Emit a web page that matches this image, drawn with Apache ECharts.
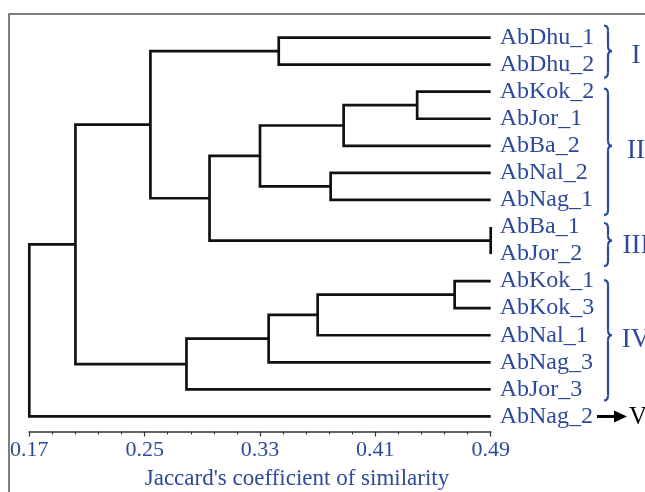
<!DOCTYPE html>
<html><head><meta charset="utf-8">
<script src="https://cdn.jsdelivr.net/npm/echarts@6/dist/echarts.min.js"></script>
<style>html,body{margin:0;padding:0;background:#fff}#c{width:645px;height:492px}</style>
</head><body><div id="c"></div>
<script>
// ---- data ----
const leafLabels = ['AbDhu_1','AbDhu_2','AbKok_2','AbJor_1','AbBa_2','AbNal_2','AbNag_1','AbBa_1','AbJor_2','AbKok_1','AbKok_3','AbNal_1','AbNag_3','AbJor_3','AbNag_2'];
const leafSimilarity = 0.49;
// merge k creates node (15 + k) from mergeLeft[k] and mergeRight[k]
const mergeLeft  = [0, 2, 16, 5, 17, 7, 19, 15, 9, 23, 24, 25, 22, 27];
const mergeRight = [1, 3, 4, 6, 18, 8, 20, 21, 10, 11, 12, 13, 26, 14];
const mergeSimilarity = [0.343, 0.439, 0.388, 0.379, 0.330, 0.490, 0.295, 0.254, 0.465, 0.370, 0.336, 0.279, 0.202, 0.170];
const tickLabels = ['0.17','0.25','0.33','0.41','0.49'];
const axisOrigin = 0.17, axisEnd = 0.49, tickStep = 0.08;
const groupNames = ['I','II','III','IV'];
const groupStart = [0, 2, 7, 9];
const groupEnd   = [1, 6, 8, 13];
const outgroupName = 'V';
const outgroupLeaf = 14;
const axisTitle = "Jaccard's coefficient of similarity";

// ---- style ----
const BLUE = '#2d4a9a';
const SERIF = '"Liberation Serif", "DejaVu Serif", serif';

// ---- build tree geometry in data units ----
const nLeaf = leafLabels.length;
const nodeX = [], nodeY = [];
for (let i = 0; i < nLeaf; i++) { nodeX.push(leafSimilarity); nodeY.push(i); }
const linkData = [];
for (let k = 0; k < mergeLeft.length; k++) {
  const a = mergeLeft[k], b = mergeRight[k];
  const y = (nodeY[a] + nodeY[b]) / 2;
  nodeX.push(mergeSimilarity[k]); nodeY.push(y);
  linkData.push([mergeSimilarity[k] - axisOrigin, nodeX[a] - axisOrigin, nodeY[a], nodeX[b] - axisOrigin, nodeY[b]]);
}

const chart = echarts.init(document.getElementById('c'), null, {renderer: 'canvas'});
chart.setOption({
  animation: false,
  backgroundColor: '#fff',
  grid: {left: 29.3, right: 154.3, top: 24, bottom: 62},
  xAxis: {
    type: 'value', position: 'bottom', min: 0, max: axisEnd - axisOrigin, interval: tickStep,
    offset: 1.5,
    axisLine: {show: true, onZero: false, lineStyle: {color: '#333', width: 1.5}},
    axisTick: {show: true, length: 5, lineStyle: {color: '#333', width: 1.2}},
    minorTick: {show: true, splitNumber: 5, length: 3, lineStyle: {color: '#333', width: 1}},
    splitLine: {show: false},
    axisLabel: {
      color: BLUE, fontFamily: SERIF, fontSize: 22, margin: 8,
      formatter: v => tickLabels[Math.round(v / tickStep)] || ''
    }
  },
  yAxis: [
    {type: 'value', min: -0.5, max: nLeaf - 0.5, inverse: true, show: false},
    {type: 'category', data: leafLabels, inverse: true, position: 'right',
     axisLine: {show: false}, axisTick: {show: false}, splitLine: {show: false},
     axisLabel: {color: BLUE, fontFamily: SERIF, fontSize: 24, margin: 9, interval: 0}}
  ],
  series: [{
    type: 'custom',
    xAxisIndex: 0, yAxisIndex: 0,
    data: linkData,
    encode: {x: [0, 1, 3], y: [2, 4]},
    renderItem: function (params, api) {
      const xn = api.value(0), xa = api.value(1), ya = api.value(2), xb = api.value(3), yb = api.value(4);
      const pts = [api.coord([xa, ya]), api.coord([xn, ya]), api.coord([xn, yb]), api.coord([xb, yb])];
      return {type: 'polyline', shape: {points: pts},
              style: {stroke: '#111', lineWidth: 2.7, fill: null, lineJoin: 'miter'}};
    }
  }]
});

// ---- annotations: braces, group numerals, arrow, title ----
const py = v => chart.convertToPixel({yAxisIndex: 0}, v);
const braceTopPad = [12, 3, 4, 1];
const braceBottomPad = [13, 15, 12, 11];
const braceX = 604, braceW = 8, braceR = 5;
const braceStyle = {fill: null, stroke: BLUE, lineWidth: 2.2};
function braceParts(yt, ym, yb) {
  const x0 = braceX, xm = braceX + braceW * 0.5, xt = braceX + braceW;
  return [
    {type: 'bezierCurve', shape: {x1: x0, y1: yt, cpx1: xm, cpy1: yt, x2: xm, y2: yt + braceR}, style: braceStyle},
    {type: 'line', shape: {x1: xm, y1: yt + braceR, x2: xm, y2: ym - braceR}, style: braceStyle},
    {type: 'bezierCurve', shape: {x1: xm, y1: ym - braceR, cpx1: xm, cpy1: ym, x2: xt, y2: ym}, style: braceStyle},
    {type: 'bezierCurve', shape: {x1: xt, y1: ym, cpx1: xm, cpy1: ym, x2: xm, y2: ym + braceR}, style: braceStyle},
    {type: 'line', shape: {x1: xm, y1: ym + braceR, x2: xm, y2: yb - braceR}, style: braceStyle},
    {type: 'bezierCurve', shape: {x1: xm, y1: yb - braceR, cpx1: xm, cpy1: yb, x2: x0, y2: yb}, style: braceStyle}
  ];
}
const graphics = [{
  type: 'rect', z: -1, silent: true,
  shape: {x: 9, y: 14, width: 700, height: 520},
  style: {fill: null, stroke: '#555', lineWidth: 1.5}
}];
for (let g = 0; g < groupNames.length; g++) {
  const yA = py(groupStart[g]), yB = py(groupEnd[g]);
  const ym = (yA + yB) / 2;
  braceParts(yA - braceTopPad[g], ym, yB + braceBottomPad[g]).forEach(p => graphics.push(p));
  graphics.push({type: 'text', x: 636, y: ym + 5,
                 style: {text: groupNames[g], fill: BLUE, fontFamily: SERIF, fontSize: 27, align: 'center', verticalAlign: 'middle'}});
}
const yo = py(outgroupLeaf);
graphics.push({type: 'line', shape: {x1: 597, y1: yo, x2: 616, y2: yo}, style: {stroke: '#000', lineWidth: 3}});
graphics.push({type: 'polygon', shape: {points: [[614, yo - 6], [627, yo], [614, yo + 6]]}, style: {fill: '#000'}});
graphics.push({type: 'text', x: 629, y: yo + 1,
               style: {text: outgroupName, fill: '#000', fontFamily: SERIF, fontSize: 25, align: 'left', verticalAlign: 'middle'}});
graphics.push({type: 'text', x: 297, y: 479,
               style: {text: axisTitle, fill: BLUE, fontFamily: SERIF, fontSize: 23, align: 'center', verticalAlign: 'middle'}});
chart.setOption({graphic: graphics});
</script>
</body></html>
